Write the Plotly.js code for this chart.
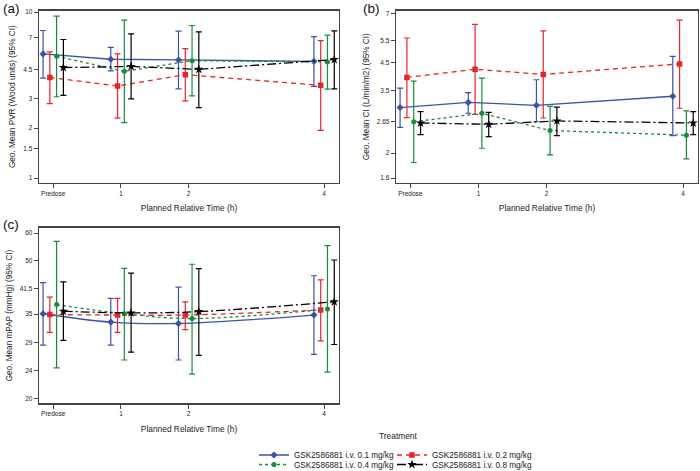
<!DOCTYPE html>
<html>
<head>
<meta charset="utf-8">
<script src="https://cdn.plot.ly/plotly-3.0.1.min.js"></script>
<style>html,body{margin:0;padding:0;background:#fff;}#chart{width:700px;height:471px;}</style>
</head>
<body>
<div id="chart"></div>
<script>
// ---------- data ----------
const times = [0, 1, 2, 4];
const timeLabels = ['Predose', '1', '2', '4'];
const treatments = ['GSK2586881 i.v. 0.1 mg/kg', 'GSK2586881 i.v. 0.2 mg/kg',
                    'GSK2586881 i.v. 0.4 mg/kg', 'GSK2586881 i.v. 0.8 mg/kg'];

// (a) PVR (Wood units)
const pvrMean01 = [5.6, 5.2, 5.15, 5.05];
const pvrLow01  = [4.0, 4.42, 3.45, 3.57];
const pvrHigh01 = [7.75, 6.14, 7.68, 7.13];
const pvrMean02 = [4.04, 3.59, 4.2, 3.62];
const pvrLow02  = [2.81, 2.30, 2.92, 1.94];
const pvrHigh02 = [5.76, 5.6, 6.03, 6.74];
const pvrMean04 = [5.42, 4.4, 5.1, 5.01];
const pvrLow04  = [3.09, 2.16, 3.13, 3.44];
const pvrHigh04 = [9.46, 8.95, 8.31, 7.26];
const pvrMean08 = [4.63, 4.71, 4.52, 5.18];
const pvrLow08  = [3.15, 3.0, 2.66, 3.45];
const pvrHigh08 = [6.84, 7.4, 7.6, 7.71];
const pvrTicks = [1, 1.5, 2, 3, 4.5, 7, 10];

// (b) CI (L/min/m2)
const ciMean01 = [3.01, 3.15, 3.07, 3.33];
const ciLow01  = [2.52, 2.86, 2.65, 2.34];
const ciHigh01 = [3.58, 3.44, 3.86, 4.76];
const ciMean02 = [3.94, 4.24, 4.05, 4.45];
const ciLow02  = [2.75, 2.83, 2.74, 2.99];
const ciHigh02 = [5.61, 6.34, 5.98, 6.58];
const ciMean04 = [2.65, 2.86, 2.45, 2.35];
const ciLow04  = [1.84, 2.09, 1.97, 1.90];
const ciHigh04 = [3.81, 3.92, 3.04, 2.92];
const ciMean08 = [2.62, 2.59, 2.67, 2.62];
const ciLow08  = [2.36, 2.32, 2.34, 2.36];
const ciHigh08 = [2.90, 2.88, 3.02, 2.90];
const ciTicks = [1.6, 2, 2.65, 3.5, 4.5, 5.5, 7];

// (c) mPAP (mmHg)
const mpapMean01 = [35.1, 33.2, 32.9, 34.8];
const mpapLow01  = [28.5, 28.5, 25.8, 26.8];
const mpapHigh01 = [43.2, 38.9, 41.9, 45.2];
const mpapMean02 = [34.9, 34.8, 34.8, 36.0];
const mpapLow02  = [31.0, 31.0, 31.6, 29.3];
const mpapHigh02 = [39.2, 38.9, 38.0, 44.0];
const mpapMean04 = [37.3, 35.1, 34.0, 36.2];
const mpapLow04  = [24.5, 25.8, 23.5, 23.8];
const mpapHigh04 = [56.8, 47.5, 48.8, 55.2];
const mpapMean08 = [35.7, 35.3, 35.6, 38.0];
const mpapLow08  = [29.4, 27.2, 26.6, 28.6];
const mpapHigh08 = [43.4, 46.0, 47.4, 50.2];
const mpapTicks = [20, 24, 29, 35, 41.5, 50, 60];

// ---------- styles ----------
const W = 700, H = 471;
const px = v => v / W;
const py = v => 1 - v / H;
const FONT = 'Liberation Sans, Arial, sans-serif';
const styles = [
  {color: '#3b53a5', dash: 'solid', symbol: 'diamond', size: 5.5, offset: -0.15, legend: 'legend',  lx: 254, ly: 455},
  {color: '#e8242b', dash: '5px,4px', symbol: 'square', size: 5.5, offset: -0.05, legend: 'legend2', lx: 392, ly: 455},
  {color: '#1a8a3c', dash: 'dot', symbol: 'circle', size: 5, offset: 0.05, legend: 'legend3', lx: 254, ly: 464.5},
  {color: '#000000', dash: '9px,3px,2px,3px', symbol: 'star', size: 7, offset: 0.15, legend: 'legend4', lx: 392, ly: 464.5}
];

const traces = [];
function addPanel(means, lows, highs, xa, ya, showLegend, shape) {
  means.forEach((m, i) => {
    const s = styles[i];
    traces.push({
      type: 'scatter', mode: 'lines+markers',
      name: treatments[i],
      x: times.map(t => t + s.offset), y: m,
      xaxis: xa, yaxis: ya,
      showlegend: showLegend, legend: s.legend,
      line: {color: s.color, dash: s.dash, width: 1.3, shape: shape || 'linear'},
      marker: {color: s.color, symbol: s.symbol, size: s.size, line: {width: 0}},
      error_y: {
        type: 'data', symmetric: false,
        array: highs[i].map((h, k) => h - m[k]),
        arrayminus: lows[i].map((l, k) => m[k] - l),
        color: s.color, thickness: 1.2, width: 3
      }
    });
  });
}
addPanel([pvrMean01, pvrMean02, pvrMean04, pvrMean08], [pvrLow01, pvrLow02, pvrLow04, pvrLow08],
         [pvrHigh01, pvrHigh02, pvrHigh04, pvrHigh08], 'x', 'y', true);
addPanel([ciMean01, ciMean02, ciMean04, ciMean08], [ciLow01, ciLow02, ciLow04, ciLow08],
         [ciHigh01, ciHigh02, ciHigh04, ciHigh08], 'x2', 'y2', false);
addPanel([mpapMean01, mpapMean02, mpapMean04, mpapMean08], [mpapLow01, mpapLow02, mpapLow04, mpapLow08],
         [mpapHigh01, mpapHigh02, mpapHigh04, mpapHigh08], 'x3', 'y3', false, 'spline');

function xAxis(domain, anchor) {
  return {
    domain: domain, anchor: anchor, range: [-0.21, 4.22],
    tickvals: times, ticktext: timeLabels,
    showline: true, mirror: true, linecolor: '#444', linewidth: 1.3,
    ticks: 'outside', ticklen: 4, tickwidth: 1, tickcolor: '#444',
    showgrid: false, zeroline: false, automargin: false,
    tickfont: {size: 6.5, color: '#222', family: FONT},
    title: {text: 'Planned Relative Time (h)', font: {size: 8.4, color: '#222', family: FONT}, standoff: 9}
  };
}
function yAxis(domain, anchor, range, ticks, title) {
  return {
    domain: domain, anchor: anchor, type: 'log', range: range,
    tickvals: ticks, ticktext: ticks.map(String),
    showline: true, mirror: true, linecolor: '#444', linewidth: 1.3,
    ticks: 'outside', ticklen: 4, tickwidth: 1, tickcolor: '#444',
    showgrid: false, zeroline: false, automargin: false,
    tickfont: {size: 6.5, color: '#222', family: FONT},
    title: {text: title, font: {size: 8.2, color: '#222', family: FONT}, standoff: 6}
  };
}

const layout = {
  width: W, height: H,
  margin: {l: 0, r: 0, t: 0, b: 0, autoexpand: false},
  paper_bgcolor: '#fff', plot_bgcolor: '#fff',
  font: {family: FONT, color: '#222'},
  xaxis: xAxis([px(39), px(339)], 'y'),
  yaxis: yAxis([py(183), py(10.5)], 'x', [-0.030, 1.010], pvrTicks, 'Geo. Mean PVR (Wood units) (95% CI)'),
  xaxis2: xAxis([px(396), px(698)], 'y2'),
  yaxis2: yAxis([py(183), py(10.5)], 'x2', [0.185, 0.856], ciTicks, 'Geo. Mean CI (L/min/m2) (95% CI)'),
  xaxis3: xAxis([px(39), px(339)], 'y3'),
  yaxis3: yAxis([py(403.3), py(227.7)], 'x3', [1.2865, 1.794], mpapTicks, 'Geo. Mean mPAP (mmHg) (95% CI)'),
  annotations: [
    {text: '(a)', x: px(1), y: py(8.5), xref: 'paper', yref: 'paper', xanchor: 'left', yanchor: 'middle', showarrow: false, font: {size: 13.5, color: '#111', family: FONT}},
    {text: '(b)', x: px(361), y: py(8.5), xref: 'paper', yref: 'paper', xanchor: 'left', yanchor: 'middle', showarrow: false, font: {size: 13.5, color: '#111', family: FONT}},
    {text: '(c)', x: px(1), y: py(224), xref: 'paper', yref: 'paper', xanchor: 'left', yanchor: 'middle', showarrow: false, font: {size: 13.5, color: '#111', family: FONT}},
    {text: 'Treatment', x: px(398), y: py(435.5), xref: 'paper', yref: 'paper', xanchor: 'center', yanchor: 'middle', showarrow: false, font: {size: 8.4, color: '#222', family: FONT}}
  ]
};
styles.forEach(s => {
  layout[s.legend] = {
    orientation: 'h', x: px(s.lx), xanchor: 'left', y: py(s.ly), yanchor: 'middle',
    font: {size: 8.2, color: '#222', family: FONT}, bgcolor: 'rgba(0,0,0,0)',
    itemwidth: 30, borderwidth: 0
  };
});

Plotly.newPlot('chart', traces, layout, {displayModeBar: false, staticPlot: true});
</script>
</body>
</html>
